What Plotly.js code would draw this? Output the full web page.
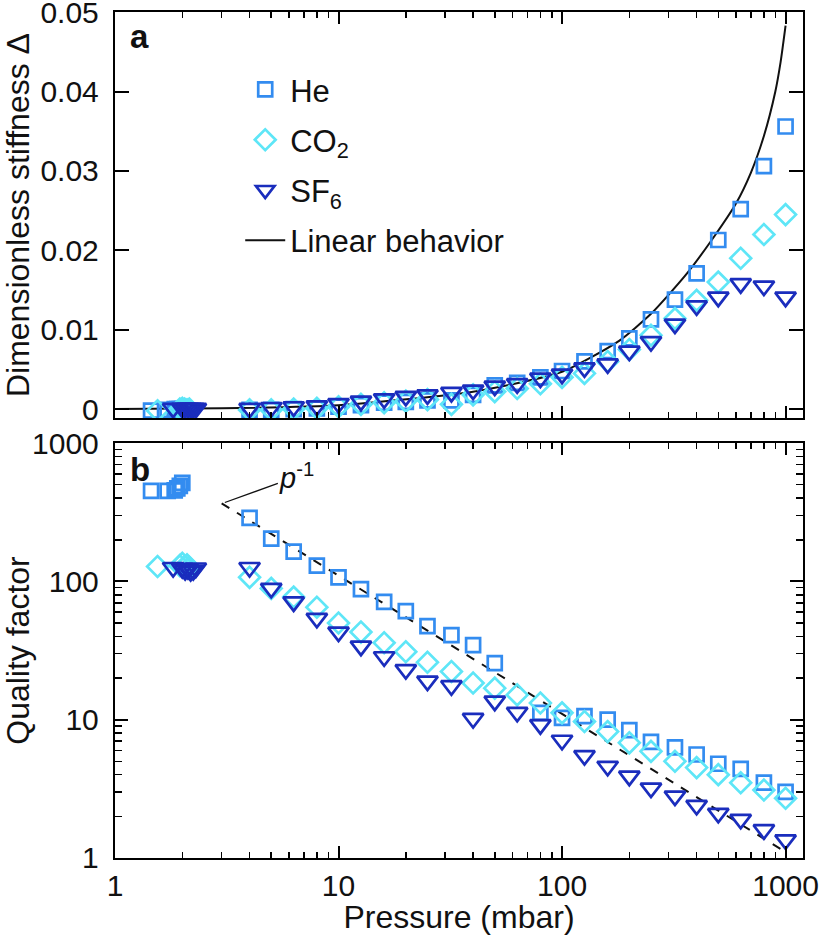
<!DOCTYPE html>
<html>
<head>
<meta charset="utf-8">
<script src="https://cdn.plot.ly/plotly-3.0.1.min.js"></script>
<style>html,body{margin:0;padding:0;background:#fff;}#chart{width:819px;height:935px;}</style>
</head>
<body>
<div id="chart"></div>
<script>
// ---------- data ----------
const pressure = [4, 5, 6.3, 8, 10, 12.6, 16, 20, 25, 32, 40, 50, 63, 80, 100, 126, 160, 200, 250, 320, 400, 500, 630, 800, 1000];

// low-pressure clusters
const heLowP   = [1.45, 1.72, 1.85, 1.9, 1.95, 2.0];
const heLowD   = [-0.0002, -0.0001, 0.0000, 0.0000, 0.0000, 0.0000];
const heLowQ   = [452, 452, 455, 470, 490, 515];
const co2LowP  = [1.55, 1.95, 2.0, 2.05, 2.1, 2.15];
const co2LowD  = [-0.0002, 0.0000, 0.0001, 0.0000, -0.0001, 0.0000];
const co2LowQ  = [128, 130, 135, 128, 132, 126];
const sf6LowP  = [1.82, 2.0, 2.06, 2.12, 2.18, 2.24, 2.3];
const sf6LowD  = [0.0001, 0.0001, 0.0001, 0.0001, 0.0001, 0.0001, 0.0001];
const sf6LowQ  = [126, 124, 120, 122, 118, 120, 125];

// dimensionless stiffness (panel a)
const heDelta  = [-0.0001, -0.0001, 0.0000, 0.0001, 0.0003, 0.0005, 0.0008, 0.0009, 0.0011, 0.0011, 0.0018, 0.0030, 0.0033, 0.0040, 0.0048, 0.0060, 0.0073, 0.0089, 0.0113, 0.0138, 0.0171, 0.0213, 0.0252, 0.0306, 0.0356];
const co2Delta = [-0.0001, -0.0001, 0.0000, 0.0001, 0.0003, 0.0006, 0.0008, 0.0010, 0.0012, 0.0006, 0.0018, 0.0022, 0.0026, 0.0032, 0.0040, 0.0045, 0.0060, 0.0075, 0.0093, 0.0114, 0.0137, 0.0160, 0.0190, 0.0220, 0.0245];
const sf6Delta = [0.0001, 0.0002, 0.0003, 0.0004, 0.0007, 0.0010, 0.0013, 0.0016, 0.0018, 0.0021, 0.0024, 0.0029, 0.0032, 0.0039, 0.0044, 0.0052, 0.0057, 0.0073, 0.0085, 0.0107, 0.0130, 0.0141, 0.0158, 0.0155, 0.0141];

// linear behavior curve (panel a)
const linP     = [1, 3, 10, 40, 100, 180, 250, 360, 470, 600, 700, 800, 900, 950, 1000];
const linDelta = [0.0000, 0.0001, 0.0005, 0.0022, 0.0047, 0.0086, 0.0120, 0.0170, 0.0214, 0.0259, 0.0298, 0.0344, 0.0400, 0.0437, 0.0483];

// quality factor (panel b)
const heQ  = [288, 204, 164, 130, 107, 88, 71, 61, 47.5, 40.9, 34.6, 25.6, null, 11.2, 10.3, 10.6, 10.0, 8.4, 6.9, 6.3, 5.6, 4.8, 4.4, 3.5, 3.0];
const co2Q = [107, 89, 77, 65, 50, 43, 36, 31, 26, 22.3, 18.4, 16.9, 15.1, 13.2, 11.2, 9.7, 8.2, 6.8, 5.9, 5.0, 4.5, 4.0, 3.5, 3.1, 2.7];
const sf6Q = [126, 89, 71, 54, 43, 34, 28.5, 23, 19, 17.6, 10.2, 13.6, 11.3, 9.2, 7.1, 5.5, 4.6, 3.9, 3.2, 2.8, 2.4, 2.1, 1.9, 1.6, 1.35];

// p^-1 guide line (panel b)
const guideP = [3, 950];
const guideQ = [367, 1.16];

// ticks
const xTickVals = [1, 10, 100, 1000];
const xTickText = ['1', '10', '100', '1000'];
const xMinorVals = [2,3,4,5,6,7,8,9,20,30,40,50,60,70,80,90,200,300,400,500,600,700,800,900];
const dTickVals = [0, 0.01, 0.02, 0.03, 0.04, 0.05];
const dTickText = ['0', '0.01', '0.02', '0.03', '0.04', '0.05'];
const qTickVals = [1, 10, 100, 1000];
const qTickText = ['1', '10', '100', '1000'];
const qMinorVals = [2,3,4,5,6,7,8,9,20,30,40,50,60,70,80,90,200,300,400,500,600,700,800,900];

const names = ['He', 'CO<sub>2</sub>', 'SF<sub>6</sub>', 'Linear behavior'];

// ---------- styles ----------
const cHe = '#338cf0', cCO2 = '#5ee6f7', cSF6 = '#1a2dbd';
const FONT = '"Liberation Sans", Arial, Helvetica, sans-serif';
const mk = (sym, col, size) => ({symbol: sym, color: col, size: size, line: {color: col, width: 2.7}});
const mHe = mk('square-open', cHe, 14);
const mCO2 = mk('diamond-open', cCO2, 16);
const mSF6 = mk('triangle-down-open', cSF6, 18);

const traces = [
  // panel a
  {x: linP, y: linDelta, xaxis: 'x2', yaxis: 'y2', mode: 'lines', line: {color: '#111', width: 2, shape: 'spline', smoothing: 0.6},
   name: names[3], legendgroup: 'g4', legendrank: 4},
  {x: heLowP.concat(pressure), y: heLowD.concat(heDelta), xaxis: 'x2', yaxis: 'y2', mode: 'markers', marker: mHe,
   name: names[0], legendgroup: 'g1', legendrank: 1},
  {x: co2LowP.concat(pressure), y: co2LowD.concat(co2Delta), xaxis: 'x2', yaxis: 'y2', mode: 'markers', marker: mCO2,
   name: names[1], legendgroup: 'g2', legendrank: 2},
  {x: sf6LowP.concat(pressure), y: sf6LowD.concat(sf6Delta), xaxis: 'x2', yaxis: 'y2', mode: 'markers', marker: mSF6,
   name: names[2], legendgroup: 'g3', legendrank: 3},
  // panel b
  {x: guideP, y: guideQ, xaxis: 'x', yaxis: 'y', mode: 'lines', line: {color: '#111', width: 2, dash: 'dash'}, showlegend: false},
  {x: heLowP.concat(pressure), y: heLowQ.concat(heQ), xaxis: 'x', yaxis: 'y', mode: 'markers', marker: mHe, showlegend: false},
  {x: co2LowP.concat(pressure), y: co2LowQ.concat(co2Q), xaxis: 'x', yaxis: 'y', mode: 'markers', marker: mCO2, showlegend: false},
  {x: sf6LowP.concat(pressure), y: sf6LowQ.concat(sf6Q), xaxis: 'x', yaxis: 'y', mode: 'markers', marker: mSF6, showlegend: false}
];

const axBase = {
  showline: true, linewidth: 2.2, linecolor: '#000', mirror: 'ticks',
  ticks: 'inside', tickwidth: 2, tickcolor: '#000', showgrid: false, zeroline: false,
  tickfont: {family: FONT, size: 30, color: '#111'}, ticklabelstandoff: 8, tickmode: 'array',
  ticklabeloverflow: 'allow'
};
const xRange = [0, 3.078];
const titleFont = {family: FONT, size: 32, color: '#111'};

const layout = {
  width: 819, height: 935,
  margin: {l: 115, r: 16, t: 12, b: 77},
  paper_bgcolor: '#fff', plot_bgcolor: '#fff',
  font: {family: FONT, size: 30, color: '#111'},
  showlegend: true,
  xaxis: Object.assign({}, axBase, {
    type: 'log', range: xRange, anchor: 'y', domain: [0, 1], ticklen: 12, ticklabelstandoff: 0,
    tickvals: xTickVals, ticktext: xTickText,
    minor: {tickmode: 'array', tickvals: xMinorVals, ticks: 'inside', ticklen: 6, tickwidth: 1.5, tickcolor: '#000'},
    title: {text: 'Pressure (mbar)', font: titleFont, standoff: 8}
  }),
  xaxis2: Object.assign({}, axBase, {
    type: 'log', range: xRange, anchor: 'y2', domain: [0, 1], ticklen: 12,
    tickvals: xTickVals, ticktext: xTickText, showticklabels: false,
    minor: {tickmode: 'array', tickvals: xMinorVals, ticks: 'inside', ticklen: 6, tickwidth: 1.5, tickcolor: '#000'}
  }),
  yaxis: Object.assign({}, axBase, {
    type: 'log', range: [-0.0005, 3.0005], anchor: 'x', domain: [0, 0.4905], ticklen: 13,
    tickvals: qTickVals, ticktext: qTickText,
    minor: {tickmode: 'array', tickvals: qMinorVals, ticks: 'inside', ticklen: 7, tickwidth: 1.5, tickcolor: '#000'},
    title: {text: 'Quality factor', font: titleFont, standoff: 6}
  }),
  yaxis2: Object.assign({}, axBase, {
    range: [-0.00113, 0.05002], anchor: 'x2', domain: [0.52, 1], ticklen: 14,
    tickvals: dTickVals, ticktext: dTickText,
    title: {text: 'Dimensionless stiffness Δ', font: titleFont, standoff: 6}
  }),
  legend: {
    x: 0.182, xanchor: 'left', y: 0.94, yanchor: 'top',
    bgcolor: 'rgba(0,0,0,0)', borderwidth: 0,
    font: {family: FONT, size: 31, color: '#111'},
    itemwidth: 40, traceorder: 'grouped', tracegroupgap: 7
  },
  annotations: [
    {text: '<b>a</b>', xref: 'paper', yref: 'paper', x: 0.036, y: 0.9705, xanchor: 'center', yanchor: 'middle',
     showarrow: false, font: {family: FONT, size: 33, color: '#111'}},
    {text: '<b>b</b>', xref: 'paper', yref: 'paper', x: 0.037, y: 0.4598, xanchor: 'center', yanchor: 'middle',
     showarrow: false, font: {family: FONT, size: 33, color: '#111'}},
    {text: '<i>p</i><sup>-1</sup>', xref: 'x', yref: 'y', x: Math.log10(3.1), y: Math.log10(372),
     showarrow: true, arrowhead: 0, arrowwidth: 1.3, arrowcolor: '#111', ax: 72, ay: -26,
     font: {family: FONT, size: 29, color: '#111'}}
  ]
};

Plotly.newPlot('chart', traces, layout, {displayModeBar: false, staticPlot: true});
</script>
</body>
</html>
